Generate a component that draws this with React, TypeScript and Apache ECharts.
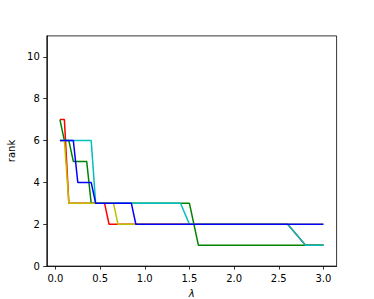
import React, { useEffect, useRef } from "react";
import * as echarts from "echarts";

// Breakpoints (lambda, rank)
const redLambda = [0.05, 0.1, 0.15, 0.55, 0.6, 2.6, 2.8, 3.0];
const redRank = [7, 7, 3, 3, 2, 2, 1, 1];

const greenLambda = [0.05, 0.1, 0.15, 0.2, 0.35, 0.4, 1.5, 1.6, 3.0];
const greenRank = [7, 6, 6, 5, 5, 3, 3, 1, 1];

const cyanLambda = [0.05, 0.4, 0.45, 1.4, 1.5, 2.6, 2.8, 3.0];
const cyanRank = [6, 6, 3, 3, 2, 2, 1, 1];

const yellowLambda = [0.05, 0.1, 0.15, 0.65, 0.7, 3.0];
const yellowRank = [6, 6, 3, 3, 2, 2];

const blueLambda = [0.05, 0.2, 0.25, 0.4, 0.45, 0.85, 0.9, 3.0];
const blueRank = [6, 6, 4, 4, 3, 3, 2, 2];

const xTicks = [0, 0.5, 1.0, 1.5, 2.0, 2.5, 3.0];
const yTicks = [0, 2, 4, 6, 8, 10];

const seriesDefs = [
  { name: "r", color: "#ff0000", xs: redLambda, ys: redRank },
  { name: "g", color: "#008000", xs: greenLambda, ys: greenRank },
  { name: "c", color: "#00bfbf", xs: cyanLambda, ys: cyanRank },
  { name: "y", color: "#bfbf00", xs: yellowLambda, ys: yellowRank },
  { name: "b", color: "#0000ff", xs: blueLambda, ys: blueRank },
];

const FONT = "DejaVu Sans";

export default function App() {
  const ref = useRef<HTMLDivElement>(null);
  useEffect(() => {
    if (!ref.current) return;
    const chart = echarts.init(ref.current, undefined, { renderer: "svg" });
    chart.setOption({
      animation: false,
      backgroundColor: "#ffffff",
      grid: {
        left: 46.75,
        top: 35.9,
        right: 37.4,
        bottom: 32.9,
        containLabel: false,
        outerBoundsMode: "none",
        show: true,
        borderColor: "#000000",
        borderWidth: 0.8,
        backgroundColor: "transparent",
      },
      xAxis: {
        type: "value",
        min: -0.0975,
        max: 3.1475,
        name: "λ",
        nameLocation: "middle",
        nameGap: 18,
        nameTextStyle: { fontFamily: FONT, fontSize: 10, fontStyle: "italic", color: "#000" },
        axisLine: { show: true, onZero: false, lineStyle: { color: "#000", width: 0.8 } },
        axisTick: { show: true, inside: false, length: 3.5, customValues: xTicks, lineStyle: { color: "#000", width: 0.8 } },
        axisLabel: {
          customValues: xTicks,
          margin: 7,
          fontFamily: FONT,
          fontSize: 10,
          color: "#000",
          formatter: (v: number) => v.toFixed(1),
        },
        splitLine: { show: false },
      },
      yAxis: {
        type: "value",
        min: 0,
        max: 11,
        name: "rank",
        nameLocation: "middle",
        nameGap: 24,
        nameTextStyle: { fontFamily: FONT, fontSize: 10, color: "#000" },
        axisLine: { show: true, onZero: false, lineStyle: { color: "#000", width: 0.8 } },
        axisTick: { show: true, inside: false, length: 3.5, customValues: yTicks, lineStyle: { color: "#000", width: 0.8 } },
        axisLabel: {
          customValues: yTicks,
          margin: 7,
          fontFamily: FONT,
          fontSize: 10,
          color: "#000",
        },
        splitLine: { show: false },
      },
      series: seriesDefs.map((s) => ({
        type: "line",
        name: s.name,
        data: s.xs.map((x, i) => [x, s.ys[i]]),
        showSymbol: false,
        symbol: "none",
        lineStyle: { color: s.color, width: 1.5 },
        itemStyle: { color: s.color },
      })),
    });
    return () => chart.dispose();
  }, []);
  return (
    <div
      ref={ref}
      style={{ position: "fixed", left: 0, top: 0, width: 374, height: 299, background: "#fff" }}
    />
  );
}
